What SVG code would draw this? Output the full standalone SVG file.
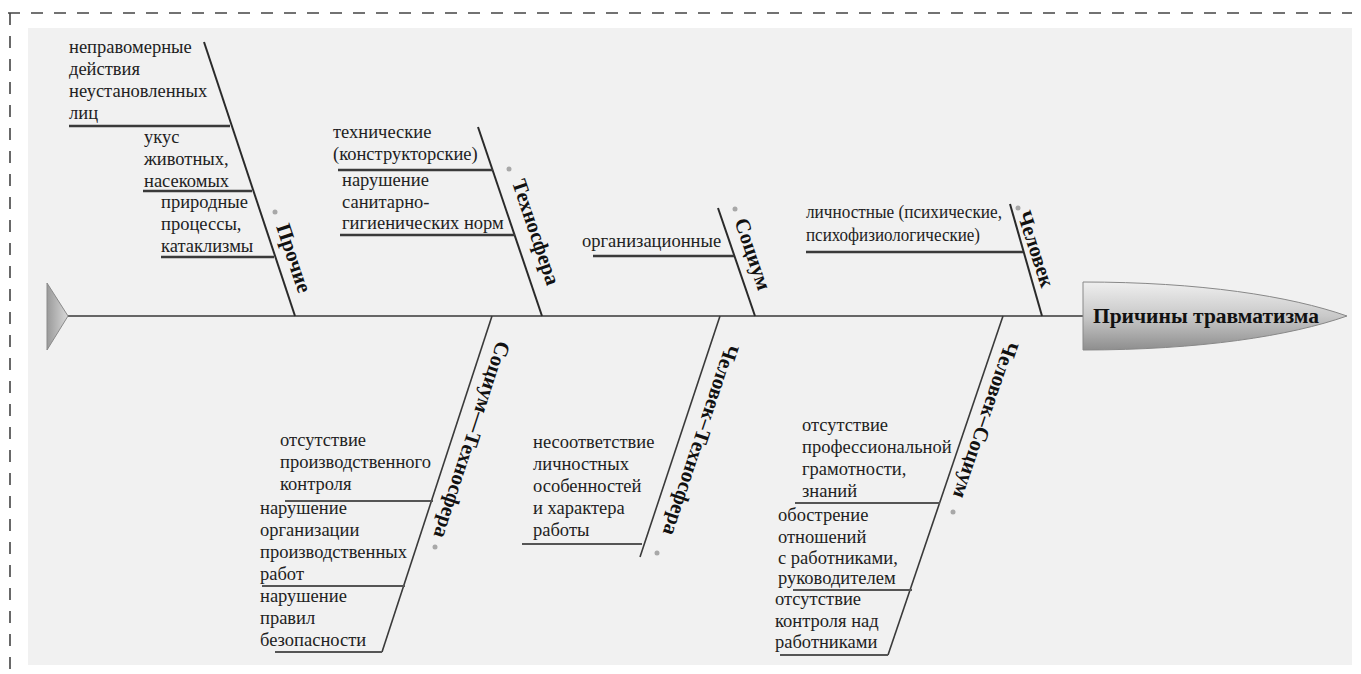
<svg xmlns="http://www.w3.org/2000/svg" width="1361" height="674" viewBox="0 0 1361 674">
<defs>
<linearGradient id="headGrad" x1="0" y1="0" x2="0" y2="1">
<stop offset="0" stop-color="#efefef"/>
<stop offset="0.5" stop-color="#c9c9c9"/>
<stop offset="1" stop-color="#8e8e8e"/>
</linearGradient>
<linearGradient id="tailGrad" x1="0" y1="0" x2="1" y2="0">
<stop offset="0" stop-color="#9a9a9a"/>
<stop offset="1" stop-color="#d8d8d8"/>
</linearGradient>
<style>
.t{font-family:"Liberation Serif","Times New Roman",serif;font-size:18.5px;fill:#222}
.lb{font-family:"Liberation Serif","Times New Roman",serif;font-size:21px;font-weight:bold;fill:#111;text-anchor:middle}
.bone{stroke:#2a2a2a;stroke-width:2;fill:none}
.bbone{stroke:#3a3a3a;stroke-width:1.6;fill:none}
.sub{stroke:#3a3a3a;stroke-width:2.6;fill:none}
.bsub{stroke:#555;stroke-width:1.8;fill:none}
.dot{fill:#a8a8a8}
</style>
</defs>
<path d="M8,13 H1352" stroke="#444" stroke-width="1.6" stroke-dasharray="12,11" fill="none"/>
<path d="M10,13 V674" stroke="#444" stroke-width="1.6" stroke-dasharray="12,11" fill="none"/>
<rect x="28" y="28" width="1324" height="637" fill="#f1f1f1"/>

<g id="connectors">
<line x1="68" y1="316" x2="1083" y2="316" stroke="#666" stroke-width="2"/>
<line class="bone" x1="204" y1="42" x2="295" y2="316"/>
<line class="bone" x1="478" y1="127" x2="542" y2="316"/>
<line class="bone" x1="718" y1="208" x2="755" y2="316"/>
<line class="bone" x1="1010" y1="204" x2="1042" y2="316"/>
<line class="bbone" x1="492" y1="316" x2="382" y2="652"/>
<line class="bbone" x1="720" y1="316" x2="640" y2="557"/>
<line class="bbone" x1="1003" y1="316" x2="888" y2="655"/>
</g>

<g id="tail">
<polygon points="47,283 68,316 47,350" fill="url(#tailGrad)" stroke="#8a8a8a" stroke-width="1"/>
</g>

<g id="head">
<path d="M1083,282 C1200,282 1290,296 1347,316 C1290,336 1200,350 1083,350 Z" fill="url(#headGrad)" stroke="#888" stroke-width="1"/>
<text x="1206" y="323" class="lb" style="font-size:21.5px">Причины травматизма</text>
</g>

<g id="prochie">
<line class="sub" x1="69" y1="126" x2="230" y2="126"/>
<line class="sub" x1="143" y1="191" x2="252" y2="191"/>
<line class="sub" x1="161" y1="257" x2="274" y2="257"/>
<text class="t" x="69" y="53">неправомерные</text>
<text class="t" x="69" y="75">действия</text>
<text class="t" x="69" y="97">неустановленных</text>
<text class="t" x="69" y="119">лиц</text>
<text class="t" x="144" y="143">укус</text>
<text class="t" x="144" y="165">животных,</text>
<text class="t" x="144" y="187">насекомых</text>
<text class="t" x="161" y="208">природные</text>
<text class="t" x="161" y="230">процессы,</text>
<text class="t" x="161" y="252">катаклизмы</text>
<circle class="dot" cx="275" cy="212" r="2.5"/>
<text class="lb" transform="translate(294,258) rotate(71.6)" y="7">Прочие</text>
</g>

<g id="tehnosfera">
<line class="sub" x1="338" y1="170" x2="493" y2="170"/>
<line class="sub" x1="340" y1="235" x2="515" y2="235"/>
<text class="t" x="333" y="138">технические</text>
<text class="t" x="333" y="160">(конструкторские)</text>
<text class="t" x="342" y="186">нарушение</text>
<text class="t" x="342" y="208">санитарно-</text>
<text class="t" x="342" y="229">гигиенических норм</text>
<circle class="dot" cx="509" cy="169" r="2.5"/>
<text class="lb" transform="translate(536,232) rotate(71.3)" y="7">Техносфера</text>
</g>

<g id="socium">
<line class="sub" x1="593" y1="256" x2="734" y2="256"/>
<text class="t" x="582" y="247">организационные</text>
<circle class="dot" cx="735" cy="209" r="2.5"/>
<text class="lb" transform="translate(753,254) rotate(71)" y="7">Социум</text>
</g>

<g id="chelovek">
<line class="sub" x1="806" y1="252" x2="1023" y2="252"/>
<text class="t" x="806" y="218" style="font-size:18px" textLength="196" lengthAdjust="spacingAndGlyphs">личностные (психические,</text>
<text class="t" x="806" y="241" style="font-size:18px" textLength="174" lengthAdjust="spacingAndGlyphs">психофизиологические)</text>
<circle class="dot" cx="1018" cy="208" r="2.5"/>
<text class="lb" transform="translate(1036,249) rotate(72)" y="7">Человек</text>
</g>

<g id="socium-tehnosfera">
<line class="bsub" x1="285" y1="501" x2="433" y2="501"/>
<line class="bsub" x1="262" y1="586" x2="405" y2="586"/>
<line class="bsub" x1="275" y1="652" x2="382" y2="652"/>
<text class="t" x="280" y="446">отсутствие</text>
<text class="t" x="280" y="468">производственного</text>
<text class="t" x="280" y="490">контроля</text>
<text class="t" x="260" y="514">нарушение</text>
<text class="t" x="260" y="536">организации</text>
<text class="t" x="260" y="558">производственных</text>
<text class="t" x="260" y="580">работ</text>
<text class="t" x="260" y="602">нарушение</text>
<text class="t" x="260" y="624">правил</text>
<text class="t" x="260" y="646">безопасности</text>
<circle class="dot" cx="435" cy="547" r="2.5"/>
<text class="lb" transform="translate(472,440) rotate(108.1)" y="7">Социум—Техносфера</text>
</g>

<g id="chelovek-tehnosfera">
<line class="bsub" x1="522" y1="544" x2="642" y2="544"/>
<text class="t" x="533" y="448">несоответствие</text>
<text class="t" x="533" y="470">личностных</text>
<text class="t" x="533" y="492">особенностей</text>
<text class="t" x="533" y="514">и характера</text>
<text class="t" x="533" y="536">работы</text>
<circle class="dot" cx="657" cy="553" r="2.5"/>
<text class="lb" transform="translate(701,440) rotate(108.4)" y="7">Человек–Техносфера</text>
</g>

<g id="chelovek-socium">
<line class="bsub" x1="795" y1="503" x2="940" y2="503"/>
<line class="bsub" x1="793" y1="590" x2="912" y2="590"/>
<line class="bsub" x1="780" y1="655" x2="888" y2="655"/>
<text class="t" x="802" y="431">отсутствие</text>
<text class="t" x="802" y="453">профессиональной</text>
<text class="t" x="802" y="475">грамотности,</text>
<text class="t" x="802" y="497">знаний</text>
<text class="t" x="778" y="521">обострение</text>
<text class="t" x="778" y="543">отношений</text>
<text class="t" x="778" y="564">с работниками,</text>
<text class="t" x="778" y="584">руководителем</text>
<text class="t" x="775" y="605">отсутствие</text>
<text class="t" x="775" y="627">контроля над</text>
<text class="t" x="775" y="648">работниками</text>
<circle class="dot" cx="953" cy="512" r="2.5"/>
<text class="lb" transform="translate(986,420) rotate(108.8)" y="7">Человек–Социум</text>
</g>
</svg>
